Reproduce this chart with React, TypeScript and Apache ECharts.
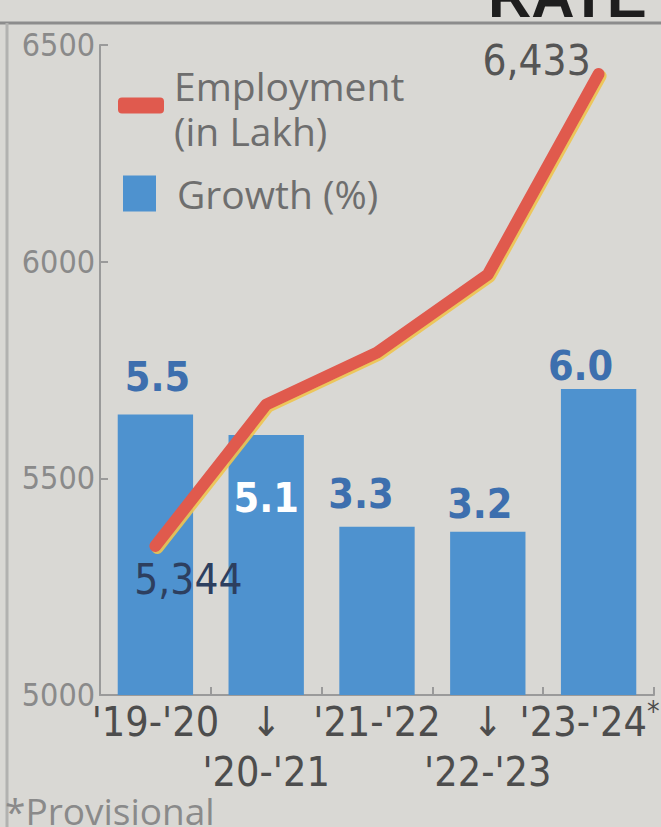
import React, { useEffect, useRef } from "react";
import * as echarts from "echarts";

const categories = ["'19-'20", "'20-'21", "'21-'22", "'22-'23", "'23-'24*"];
const employment = [5344, 5670, 5790, 5970, 6433];
const growth = [5.5, 5.1, 3.3, 3.2, 6.0];
const employmentTicks = [5000, 5500, 6000, 6500];

const NARROW = "'Liberation Sans Narrow', 'DejaVu Sans Condensed', 'Liberation Sans', sans-serif";
const SANS = "'Open Sans', 'Noto Sans', sans-serif";

export default function App() {
  const ref = useRef<HTMLDivElement>(null);

  useEffect(() => {
    document.body.style.margin = "0";
    if (!ref.current) return;
    const chart = echarts.init(ref.current, undefined, { renderer: "svg" });

    const lineLabelStyle: Record<number, any> = {
      0: { show: true, position: "inside", offset: [33, 34], color: "#2d3f5f" },
      4: { show: true, position: "inside", offset: [-62, -14], color: "#555555" },
    };
    const barLabelStyle: Record<number, any> = {
      0: { position: "top", distance: 17, offset: [2, 0] },
      1: { position: "insideTop", distance: 42, offset: [0, 0], color: "#ffffff" },
      2: { position: "top", distance: 12, offset: [-16, 0] },
      3: { position: "top", distance: 7, offset: [-8, 0] },
      4: { position: "top", distance: 3, offset: [-18, 0] },
    };

    const lineData = employment.map((v, i) => ({
      value: v,
      label: lineLabelStyle[i] ? { ...lineLabelStyle[i] } : { show: false },
    }));
    const barData = growth.map((v, i) => ({
      value: v,
      label: { ...(barLabelStyle[i] || {}) },
    }));

    const legendText = {
      fontFamily: SANS,
      fontSize: 39,
      color: "#6e6e6e",
    };

    const option: any = {
      animation: false,
      backgroundColor: "#d9d8d4",
      grid: {
        left: 100,
        right: 7,
        top: 45,
        bottom: 132,
        containLabel: false,
        outerBoundsMode: "none",
      },
      legend: [
        {
          data: ["Employment"],
          left: 118,
          top: 66,
          padding: 0,
          icon: "roundRect",
          itemWidth: 46,
          itemHeight: 16,
          selectedMode: false,
          itemStyle: { color: "#e05a4e" },
          formatter: () => "{e|Employment}\n{l|(in Lakh)}",
          textStyle: {
            ...legendText,
            padding: [0, 0, 0, 5],
            rich: {
              e: { ...legendText, lineHeight: 50 },
              l: { ...legendText, lineHeight: 40 },
            },
          },
        },
        {
          data: ["Growth (%)"],
          left: 123,
          top: 174,
          padding: 0,
          icon: "rect",
          itemWidth: 33,
          itemHeight: 36,
          selectedMode: false,
          itemStyle: { color: "#4e92cf" },
          textStyle: {
            ...legendText,
            padding: [0, 0, 0, 16],
          },
        },
      ],
      xAxis: {
        type: "category",
        data: categories,
        boundaryGap: true,
        axisLine: { show: true, lineStyle: { color: "#9a9a9a", width: 2 } },
        axisTick: { show: true, inside: true, length: 8, lineStyle: { color: "#9a9a9a", width: 2 } },
        axisLabel: {
          interval: 0,
          margin: 2,
          fontFamily: NARROW,
          fontSize: 41,
          lineHeight: 50,
          color: "#4d4d4d",
          formatter: (v: string, i: number) => {
            const txt = v.endsWith("*") ? "{a|" + v.slice(0, -1) + "}{s|*}" : v;
            return i % 2 ? "\u2193\n" + txt : txt;
          },
          rich: {
            a: { fontFamily: NARROW, fontSize: 41, lineHeight: 50, color: "#4d4d4d" },
            s: {
              fontFamily: NARROW,
              fontSize: 28,
              lineHeight: 50,
              color: "#4d4d4d",
              verticalAlign: "top",
              padding: [0, 18, 0, 0],
            },
          },
        },
      },
      yAxis: [
        {
          type: "value",
          min: employmentTicks[0],
          max: employmentTicks[employmentTicks.length - 1],
          interval: employmentTicks[1] - employmentTicks[0],
          axisLine: { show: true, lineStyle: { color: "#9a9a9a", width: 2 } },
          axisTick: { show: true, inside: true, length: 8, lineStyle: { color: "#9a9a9a", width: 2 } },
          splitLine: { show: false },
          axisLabel: {
            margin: 5,
            fontFamily: NARROW,
            fontSize: 32,
            color: "#8a8a8a",
            padding: [0, 0, 14, 0],
            formatter: (v: number) => String(v),
          },
        },
        { type: "value", min: 0, max: 12.75, show: false },
      ],
      series: [
        {
          name: "Growth (%)",
          type: "bar",
          yAxisIndex: 1,
          barWidth: "68%",
          itemStyle: { color: "#4e92cf" },
          label: {
            show: true,
            fontFamily: NARROW,
            fontWeight: "bold",
            fontSize: 41,
            color: "#3d6fae",
            formatter: (p: any) => Number(p.value).toFixed(1),
          },
          data: barData,
          z: 2,
        },
        {
          name: "Employment",
          type: "line",
          yAxisIndex: 0,
          symbol: "circle",
          symbolSize: 1,
          showSymbol: true,
          lineStyle: {
            color: "#e05a4e",
            width: 12,
            cap: "round",
            join: "round",
            shadowColor: "rgba(238,196,80,0.9)",
            shadowBlur: 0,
            shadowOffsetX: 2,
            shadowOffsetY: 2,
          },
          itemStyle: { color: "#e05a4e" },
          label: {
            fontFamily: NARROW,
            fontSize: 42,
            formatter: (p: any) => Number(p.value).toLocaleString("en-US"),
          },
          data: lineData,
          z: 5,
        },
      ],
      graphic: [
        {
          type: "line",
          shape: { x1: 0, y1: 23, x2: 661, y2: 23 },
          style: { stroke: "#8c8c8c", lineWidth: 3 },
          silent: true,
        },
        {
          type: "line",
          shape: { x1: 7, y1: 23, x2: 7, y2: 827 },
          style: { stroke: "#b2b2b0", lineWidth: 3 },
          silent: true,
        },
        {
          type: "text",
          x: 488,
          y: 26,
          style: {
            text: "RATE",
            fontFamily: "'Liberation Sans', sans-serif",
            fontWeight: "bold",
            fontSize: 60,
            fill: "#1e1e1e",
            verticalAlign: "bottom",
          },
          silent: true,
        },
        {
          type: "text",
          left: 5,
          top: 792,
          style: {
            text: "*Provisional",
            fontFamily: SANS,
            fontSize: 37,
            fill: "#8a8a8a",
          },
          silent: true,
        },
      ],
    };

    chart.setOption(option);
    return () => chart.dispose();
  }, []);

  return (
    <div
      ref={ref}
      style={{ position: "absolute", left: 0, top: 0, width: 661, height: 827 }}
    />
  );
}
